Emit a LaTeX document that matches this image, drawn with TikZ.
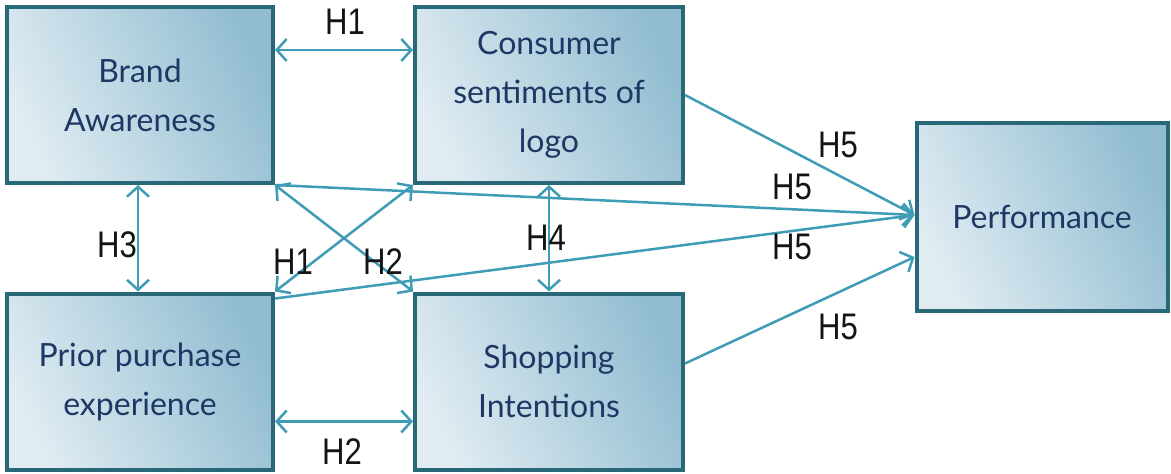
\documentclass[tikz,border=0pt]{standalone}
\usepackage{fontspec}
\setmainfont{Lato}
\newfontfamily\labelfont[FakeStretch=0.84]{Liberation Sans}
\usetikzlibrary{arrows.meta}

\definecolor{boxlight}{RGB}{224,236,242}
\definecolor{boxdark}{RGB}{146,189,209}
\definecolor{boxline}{RGB}{40,104,120}
\definecolor{boxtext}{RGB}{30,55,100}
\definecolor{linkc}{RGB}{62,156,180}

\tikzset{
  box/.style={draw=boxline, line width=4pt, left color=boxlight, right color=boxdark,
    shading angle=115, text=boxtext, align=center, inner sep=0pt,
    font=\fontsize{32}{49}\selectfont},
  smallbox/.style={box, minimum width=266pt, minimum height=176pt},
  link/.style={draw=linkc, line width=2.5pt},
  hyp/.style={text=black!92, inner sep=0pt, font=\labelfont\fontsize{37}{37}\selectfont},
  >={Straight Barb[length=10pt,width=22pt]}
}

\begin{document}
\begin{tikzpicture}[x=1pt,y=-1pt]
\useasboundingbox[fill=white] (0,0) rectangle (1171,474);

% constructs
\node[smallbox] (brand) at (140,95) {Brand\\Awareness};
\node[smallbox, minimum width=268pt] (cons) at (549,95) {Consumer\\sentiments of\\logo};
\node[smallbox] (prior) at (140,381.5) {Prior purchase\\experience};
\node[smallbox, minimum width=268pt] (shop) at (549,381.5) {Shopping\\Intentions};
\node[box, minimum width=251pt, minimum height=188pt] (perf) at (1042,217) {Performance};

% hypothesised relations
\draw[link,<->] ([yshift=45pt]brand.east) -- ([yshift=45pt]cons.west);
\draw[link,<->] ([xshift=-2pt]brand.south) -- ([xshift=-2pt]prior.north);
\draw[link,<->] ([yshift=-40pt]prior.east) -- ([yshift=-40pt]shop.west);
\draw[link,<->] (cons.south) -- (shop.north);
\draw[link,<->] (brand.south east) -- (shop.north west);
\draw[link,<->] (prior.north east) -- (cons.south west);

\coordinate (pin) at ([yshift=2pt]perf.west);
\draw[link,->] (cons.east) -- (pin);
\draw[link,->] (brand.south east) -- (pin);
\draw[link,->] ([yshift=-7pt]prior.north east) -- (pin);
\draw[link,->] ([yshift=18pt]shop.east) -- ([yshift=-40pt]perf.west);

% hypothesis labels
\node[hyp] (h1a) at (345,22) {H1};
\node[hyp] (h3) at (117,245) {H3};
\node[hyp] (h2a) at (342,452) {H2};
\node[hyp] (h1b) at (293,262) {H1};
\node[hyp] (h2b) at (383,262) {H2};
\node[hyp] (h4) at (546,238) {H4};
\node[hyp] (h5a) at (838,145) {H5};
\node[hyp] (h5b) at (792,187) {H5};
\node[hyp] (h5c) at (792,247) {H5};
\node[hyp] (h5d) at (838,327) {H5};
\end{tikzpicture}
\end{document}
